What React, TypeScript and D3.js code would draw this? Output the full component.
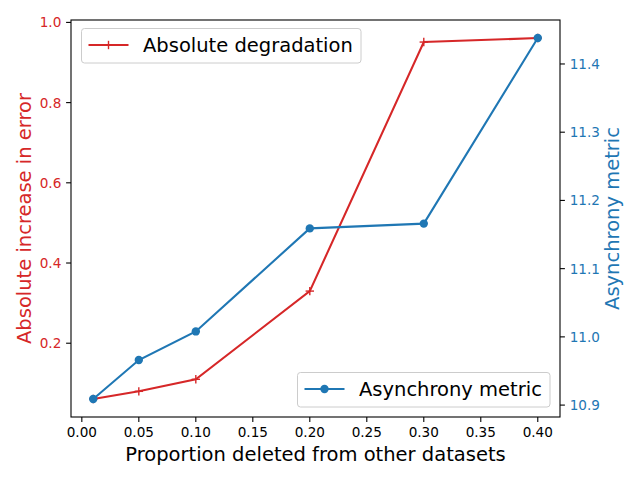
import React from "react";
import * as d3 from "d3";

const proportions = [0.01, 0.05, 0.1, 0.2, 0.3, 0.4];
const degradation = [0.061, 0.08, 0.11, 0.33, 0.951, 0.961];
const asynchrony = [10.909, 10.966, 11.008, 11.159, 11.166, 11.438];
const xTicks = [0.0, 0.05, 0.1, 0.15, 0.2, 0.25, 0.3, 0.35, 0.4];
const leftTicks = [0.2, 0.4, 0.6, 0.8, 1.0];
const rightTicks = [10.9, 11.0, 11.1, 11.2, 11.3, 11.4];

const RED = "#d62728";
const BLUE = "#1f77b4";
const FONT = "DejaVu Sans, sans-serif";

export default function App() {
  const W = 640, H = 480;
  const L = 71, R = 560, T = 20, B = 417;
  const pad = (ext: [number, number]) => {
    const d = (ext[1] - ext[0]) * 0.05;
    return [ext[0] - d, ext[1] + d];
  };
  const x = d3.scaleLinear().domain(pad(d3.extent(proportions) as [number, number])).range([L, R]);
  const yL = d3.scaleLinear().domain(pad(d3.extent(degradation) as [number, number])).range([B, T]);
  const yR = d3.scaleLinear().domain(pad(d3.extent(asynchrony) as [number, number])).range([B, T]);
  const lineL = d3.line<number>().x((_, i) => x(proportions[i])).y((d) => yL(d));
  const lineR = d3.line<number>().x((_, i) => x(proportions[i])).y((d) => yR(d));
  const tickFs = 13.6;
  const labFs = 19.5;
  const ms = 4.2;

  return (
    <svg width={W} height={H} style={{ position: "absolute", left: 0, top: 0 }} fontFamily={FONT}>
      <rect x={0} y={0} width={W} height={H} fill="#fff" />
      {/* lines */}
      <path d={lineL(degradation) || ""} fill="none" stroke={RED} strokeWidth={2.08} />
      {degradation.map((d, i) => (
        <g key={"p" + i} stroke={RED} strokeWidth={1.4}>
          <line x1={x(proportions[i]) - ms} x2={x(proportions[i]) + ms} y1={yL(d)} y2={yL(d)} />
          <line x1={x(proportions[i])} x2={x(proportions[i])} y1={yL(d) - ms} y2={yL(d) + ms} />
        </g>
      ))}
      <path d={lineR(asynchrony) || ""} fill="none" stroke={BLUE} strokeWidth={2.08} />
      {asynchrony.map((d, i) => (
        <circle key={"c" + i} cx={x(proportions[i])} cy={yR(d)} r={4.2} fill={BLUE} />
      ))}
      {/* frame */}
      <rect x={L} y={T} width={R - L} height={B - T} fill="none" stroke="#000" strokeWidth={1.1} />
      {/* x ticks */}
      {xTicks.map((t) => (
        <g key={"x" + t}>
          <line x1={x(t)} x2={x(t)} y1={B} y2={B + 4.9} stroke="#000" strokeWidth={1.1} />
          <text x={x(t)} y={B + 20} fontSize={tickFs} textAnchor="middle" fill="#000">
            {t.toFixed(2)}
          </text>
        </g>
      ))}
      {/* left ticks */}
      {leftTicks.map((t) => (
        <g key={"l" + t}>
          <line x1={L - 4.9} x2={L} y1={yL(t)} y2={yL(t)} stroke="#000" strokeWidth={1.1} />
          <text x={L - 9.7} y={yL(t)} dy="0.36em" fontSize={tickFs} textAnchor="end" fill={RED}>
            {t.toFixed(1)}
          </text>
        </g>
      ))}
      {/* right ticks */}
      {rightTicks.map((t) => (
        <g key={"r" + t}>
          <line x1={R} x2={R + 4.9} y1={yR(t)} y2={yR(t)} stroke="#000" strokeWidth={1.1} />
          <text x={R + 9.7} y={yR(t)} dy="0.36em" fontSize={tickFs} textAnchor="start" fill={BLUE}>
            {t.toFixed(1)}
          </text>
        </g>
      ))}
      {/* axis labels */}
      <text x={(L + R) / 2} y={461} fontSize={labFs} textAnchor="middle" fill="#000">
        Proportion deleted from other datasets
      </text>
      <text transform={`translate(31,${(T + B) / 2}) rotate(-90)`} fontSize={labFs} textAnchor="middle" fill={RED}>
        Absolute increase in error
      </text>
      <text transform={`translate(619,${(T + B) / 2}) rotate(-90)`} fontSize={labFs} textAnchor="middle" fill={BLUE}>
        Asynchrony metric
      </text>
      {/* legend 1 */}
      <g>
        <rect x={81.5} y={28.5} width={279.5} height={34.5} rx={3} fill="#fff" fillOpacity={0.8} stroke="#cccccc" strokeWidth={1} />
        <line x1={88.5} x2={128.5} y1={45} y2={45} stroke={RED} strokeWidth={2.08} />
        <line x1={108.5 - ms} x2={108.5 + ms} y1={45} y2={45} stroke={RED} strokeWidth={1.4} />
        <line x1={108.5} x2={108.5} y1={45 - ms} y2={45 + ms} stroke={RED} strokeWidth={1.4} />
        <text x={143} y={52} fontSize={labFs} fill="#000">Absolute degradation</text>
      </g>
      {/* legend 2 */}
      <g>
        <rect x={297.5} y={372.5} width={252.5} height={34.5} rx={3} fill="#fff" fillOpacity={0.8} stroke="#cccccc" strokeWidth={1} />
        <line x1={304.5} x2={344.5} y1={389} y2={389} stroke={BLUE} strokeWidth={2.08} />
        <circle cx={324.5} cy={389} r={4.2} fill={BLUE} />
        <text x={359} y={396} fontSize={labFs} fill="#000">Asynchrony metric</text>
      </g>
    </svg>
  );
}
